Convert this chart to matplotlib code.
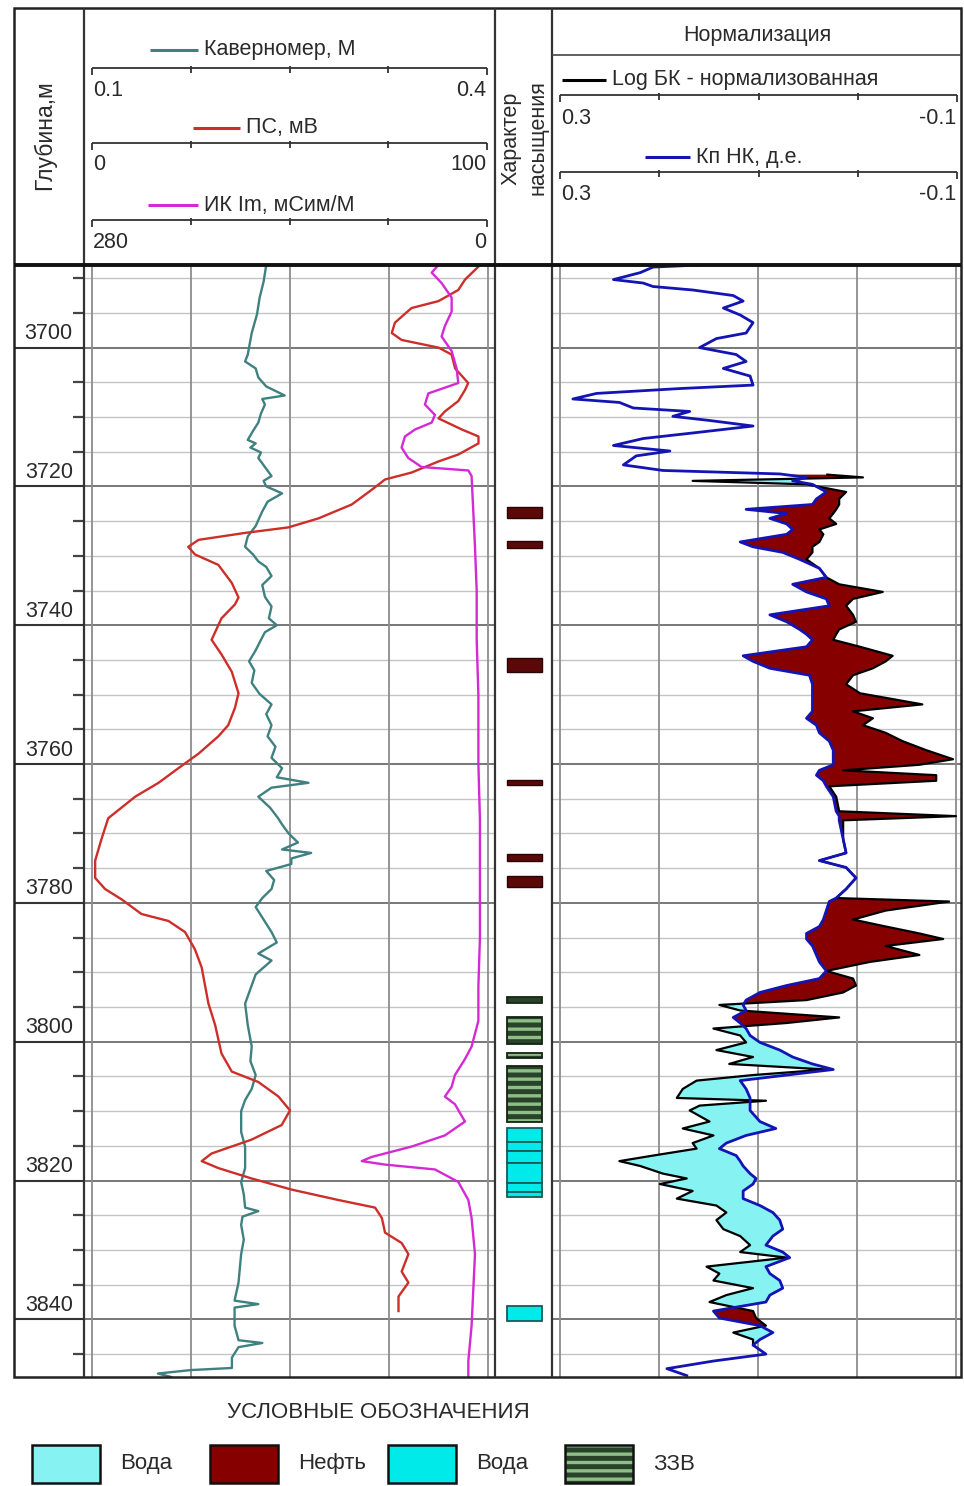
import numpy as np
import matplotlib
matplotlib.use("Agg")
import matplotlib.pyplot as plt
from matplotlib.patches import Rectangle

plt.rcParams['font.family'] = ['Liberation Sans', 'DejaVu Sans']
plt.rcParams['hatch.linewidth'] = 2.4

# ---------------------------------------------------------------- data
depth_top, depth_bottom = 3688.1, 3848.3
depth_major = [3700, 3720, 3740, 3760, 3780, 3800, 3820, 3840]
depth_minor = list(range(3690, 3850, 5))

cal_scale = [0.1, 0.4]      # Каверномер, М
sp_scale = [0, 100]         # ПС, мВ
ik_scale = [280, 0]         # ИК Im, мСим/М
bk_scale = [0.3, -0.1]      # Log БК - нормализованная
nk_scale = [0.3, -0.1]      # Кп НК, д.е.

caliper = [(3688.1, 0.232), (3690.5, 0.230), (3692.8, 0.227), (3695.2, 0.225), (3697.9, 0.221),
           (3701.0, 0.218), (3702.0, 0.216), (3703.0, 0.224), (3704.3, 0.226), (3705.6, 0.232),
           (3706.9, 0.246), (3707.4, 0.229), (3708.2, 0.231), (3709.5, 0.228), (3710.8, 0.226),
           (3712.0, 0.222), (3713.3, 0.218), (3713.8, 0.224), (3714.4, 0.220), (3715.1, 0.228),
           (3715.9, 0.226), (3717.2, 0.231), (3718.5, 0.236), (3719.2, 0.230), (3720.0, 0.232),
           (3721.0, 0.244), (3722.2, 0.233), (3723.6, 0.229), (3725.7, 0.224), (3727.2, 0.218),
           (3728.7, 0.216), (3729.8, 0.222), (3730.8, 0.226), (3731.6, 0.232), (3732.9, 0.236),
           (3734.2, 0.229), (3735.9, 0.231), (3737.3, 0.236), (3739.0, 0.234), (3740.0, 0.240),
           (3741.0, 0.231), (3742.1, 0.228), (3743.6, 0.224), (3745.2, 0.219), (3746.5, 0.223),
           (3748.3, 0.221), (3749.9, 0.227), (3751.4, 0.236), (3752.8, 0.232), (3754.4, 0.236),
           (3756.0, 0.233), (3757.5, 0.239), (3759.1, 0.236), (3760.6, 0.244), (3761.9, 0.240),
           (3762.7, 0.264), (3763.4, 0.236), (3764.7, 0.226), (3766.3, 0.235), (3767.8, 0.241),
           (3768.7, 0.244), (3770.0, 0.249), (3771.3, 0.256), (3772.3, 0.244), (3772.8, 0.266),
           (3773.6, 0.251), (3774.4, 0.251), (3775.4, 0.232), (3776.7, 0.238), (3778.0, 0.236),
           (3779.3, 0.229), (3780.6, 0.224), (3782.4, 0.230), (3784.2, 0.236), (3785.7, 0.240),
           (3787.3, 0.226), (3788.3, 0.236), (3790.3, 0.224), (3792.4, 0.220), (3794.5, 0.216),
           (3797.6, 0.218), (3800.7, 0.221), (3802.8, 0.220), (3804.8, 0.224), (3806.8, 0.221),
           (3808.4, 0.216), (3810.0, 0.213), (3813.0, 0.213), (3815.1, 0.216), (3818.2, 0.216),
           (3820.2, 0.213), (3822.0, 0.215), (3823.9, 0.216), (3824.4, 0.226), (3825.2, 0.214),
           (3826.4, 0.213), (3828.5, 0.215), (3830.6, 0.213), (3832.6, 0.212), (3834.7, 0.211),
           (3837.3, 0.208), (3837.8, 0.226), (3838.3, 0.208), (3840.9, 0.208), (3843.0, 0.211),
           (3843.4, 0.229), (3844.0, 0.211), (3845.5, 0.206), (3847.0, 0.206), (3847.3, 0.175),
           (3847.8, 0.150), (3848.3, 0.160)]

sp = [(3688.1, 98.0), (3690.2, 94.2), (3691.7, 92.5), (3693.3, 87.5), (3694.3, 80.7),
      (3696.4, 76.5), (3697.9, 75.7), (3698.9, 78.2), (3700.0, 87.5), (3701.0, 90.8),
      (3703.0, 91.7), (3705.1, 95.0), (3706.1, 94.2), (3707.7, 92.5), (3709.2, 89.1),
      (3710.2, 87.5), (3711.8, 93.4), (3712.8, 97.6), (3713.8, 97.6), (3715.4, 92.5),
      (3716.4, 87.5), (3717.2, 84.1), (3718.0, 80.7), (3719.0, 74.0), (3720.5, 70.6),
      (3722.6, 65.6), (3724.6, 57.2), (3725.9, 49.6), (3726.7, 38.6), (3727.7, 26.9),
      (3728.7, 24.3), (3729.8, 26.0), (3731.3, 31.9), (3733.9, 35.3), (3736.0, 37.0),
      (3737.0, 36.1), (3739.0, 32.7), (3742.1, 30.2), (3744.2, 32.7), (3746.7, 35.3),
      (3749.8, 37.0), (3751.9, 36.1), (3754.4, 34.4), (3756.0, 31.9), (3758.5, 26.9),
      (3760.6, 21.8), (3762.7, 16.8), (3764.7, 10.9), (3767.8, 4.1), (3770.8, 2.4),
      (3773.9, 0.8), (3776.4, 0.8), (3778.0, 3.3), (3779.5, 7.5), (3781.6, 12.5),
      (3782.6, 19.3), (3784.2, 23.5), (3786.7, 26.0), (3789.3, 27.7), (3794.5, 29.4),
      (3797.6, 31.1), (3801.7, 32.7), (3804.3, 35.3), (3805.8, 42.0), (3807.9, 47.1),
      (3809.9, 50.0), (3812.0, 47.9), (3814.1, 40.3), (3816.1, 30.2), (3817.2, 27.7),
      (3818.2, 31.9), (3819.7, 40.3), (3821.3, 50.4), (3822.8, 62.2), (3823.9, 71.5),
      (3825.4, 73.2), (3827.5, 74.0), (3829.0, 78.2), (3830.6, 79.9), (3833.1, 78.2),
      (3834.7, 79.9), (3836.7, 77.4), (3838.8, 77.4)]

ik = [(3688.1, 35.1), (3689.2, 39.8), (3690.7, 32.8), (3692.8, 25.7), (3694.8, 25.7),
      (3696.9, 30.5), (3698.4, 32.8), (3700.5, 25.7), (3703.0, 22.2), (3705.1, 21.0),
      (3706.6, 42.2), (3708.2, 44.6), (3709.7, 37.5), (3710.8, 39.8), (3711.8, 51.6),
      (3712.8, 58.7), (3714.4, 61.1), (3715.9, 56.4), (3717.2, 47.0), (3717.7, 13.9),
      (3718.5, 11.6), (3723.6, 10.4), (3728.7, 9.2), (3735.0, 8.0), (3742.0, 8.0),
      (3750.0, 6.8), (3760.0, 6.8), (3768.0, 5.7), (3775.0, 5.7), (3785.0, 5.7),
      (3792.0, 6.8), (3797.0, 6.8), (3800.7, 11.6), (3802.5, 16.3), (3804.8, 23.4),
      (3806.5, 25.7), (3807.9, 30.5), (3809.0, 23.4), (3811.5, 16.3), (3813.5, 30.5),
      (3815.1, 54.0), (3816.6, 82.3), (3817.2, 89.3), (3817.7, 72.8), (3818.4, 37.5),
      (3820.2, 21.0), (3822.8, 13.9), (3825.4, 11.6), (3830.6, 9.2), (3835.7, 10.4),
      (3840.9, 11.6), (3846.0, 13.9), (3848.3, 13.9)]

nk = [(3688.1, 0.159), (3688.4, 0.206), (3689.2, 0.219), (3690.2, 0.246), (3690.7, 0.216),
      (3691.2, 0.206), (3691.7, 0.166), (3692.5, 0.125), (3693.3, 0.115), (3694.3, 0.135),
      (3695.3, 0.118), (3696.4, 0.105), (3697.9, 0.112), (3698.7, 0.142), (3700.0, 0.159),
      (3701.0, 0.122), (3702.0, 0.112), (3703.0, 0.135), (3704.1, 0.108), (3705.4, 0.105),
      (3705.9, 0.179), (3706.6, 0.263), (3707.4, 0.287), (3707.9, 0.240), (3708.7, 0.226),
      (3709.2, 0.169), (3709.9, 0.186), (3710.5, 0.149), (3711.3, 0.105), (3712.3, 0.166),
      (3713.1, 0.216), (3714.1, 0.246), (3714.9, 0.189), (3715.6, 0.223), (3716.9, 0.236),
      (3717.7, 0.196), (3718.2, 0.078), (3718.7, 0.051), (3719.2, 0.065), (3719.7, 0.045),
      (3720.8, 0.031), (3721.8, 0.041), (3722.6, 0.045), (3723.3, 0.112), (3723.9, 0.071),
      (3724.6, 0.088), (3725.4, 0.071), (3726.2, 0.065), (3726.9, 0.071), (3728.0, 0.118),
      (3728.7, 0.105), (3729.5, 0.075), (3730.5, 0.058), (3731.8, 0.038), (3733.1, 0.031),
      (3734.1, 0.065), (3735.2, 0.051), (3736.2, 0.031), (3737.2, 0.028), (3738.5, 0.088),
      (3739.5, 0.071), (3740.6, 0.058), (3741.3, 0.051), (3742.1, 0.045), (3743.1, 0.051),
      (3744.4, 0.115), (3745.2, 0.105), (3746.2, 0.088), (3747.2, 0.048), (3748.5, 0.045),
      (3749.8, 0.045), (3751.4, 0.045), (3752.4, 0.045), (3753.4, 0.051), (3754.4, 0.041),
      (3755.5, 0.038), (3756.7, 0.028), (3758.0, 0.024), (3759.3, 0.024), (3760.1, 0.024),
      (3760.9, 0.038), (3761.6, 0.041), (3762.4, 0.034), (3763.2, 0.031), (3764.7, 0.024),
      (3766.8, 0.021), (3767.5, 0.018), (3768.1, 0.018), (3770.8, 0.014), (3772.8, 0.011),
      (3773.9, 0.038), (3774.9, 0.011), (3776.4, 0.001), (3778.0, 0.011), (3779.3, 0.021),
      (3779.8, 0.028), (3781.1, 0.031), (3782.4, 0.034), (3783.4, 0.038), (3784.4, 0.051),
      (3785.2, 0.051), (3786.2, 0.045), (3787.5, 0.041), (3788.5, 0.038), (3789.8, 0.031),
      (3790.9, 0.038), (3791.9, 0.071), (3792.9, 0.098), (3794.0, 0.112), (3794.7, 0.115),
      (3795.5, 0.112), (3796.5, 0.125), (3797.3, 0.118), (3798.1, 0.112), (3799.1, 0.108),
      (3800.1, 0.098), (3801.2, 0.078), (3802.2, 0.065), (3803.2, 0.045), (3804.0, 0.024),
      (3804.8, 0.071), (3805.6, 0.118), (3806.8, 0.112), (3808.1, 0.108), (3809.9, 0.108),
      (3811.5, 0.098), (3812.5, 0.082), (3813.5, 0.112), (3814.6, 0.132), (3815.4, 0.139),
      (3816.4, 0.122), (3817.2, 0.118), (3817.9, 0.115), (3819.0, 0.108), (3819.7, 0.102),
      (3820.5, 0.105), (3821.5, 0.115), (3822.6, 0.115), (3823.6, 0.098), (3824.6, 0.085),
      (3825.7, 0.078), (3827.0, 0.075), (3828.0, 0.085), (3829.3, 0.092), (3830.3, 0.075),
      (3831.1, 0.068), (3832.4, 0.092), (3833.4, 0.088), (3834.4, 0.078), (3835.5, 0.075),
      (3836.5, 0.088), (3837.5, 0.092), (3838.8, 0.145), (3839.8, 0.139), (3840.9, 0.098),
      (3841.9, 0.085), (3842.9, 0.098), (3843.7, 0.105), (3845.0, 0.092), (3846.0, 0.145),
      (3847.1, 0.192), (3848.1, 0.172)]

bk = [(3718.3, 0.030), (3718.7, -0.006), (3719.2, 0.166), (3719.7, 0.051), (3720.8, 0.011),
      (3721.8, 0.018), (3722.6, 0.018), (3723.3, 0.021), (3723.9, 0.024), (3724.6, 0.028),
      (3725.4, 0.021), (3726.2, 0.038), (3726.9, 0.034), (3728.0, 0.038), (3728.7, 0.045),
      (3729.5, 0.045), (3730.5, 0.051), (3731.8, 0.038), (3733.1, 0.031), (3734.1, 0.018),
      (3735.2, -0.026), (3736.2, 0.004), (3737.2, 0.011), (3738.5, 0.004), (3739.5, 0.001),
      (3740.6, 0.018), (3741.3, 0.021), (3742.1, 0.024), (3743.1, -0.003), (3744.4, -0.036),
      (3745.2, -0.029), (3746.2, -0.016), (3747.2, 0.004), (3748.5, 0.011), (3749.8, -0.003),
      (3751.4, -0.066), (3752.4, 0.004), (3753.4, -0.016), (3754.4, -0.006), (3755.5, -0.029),
      (3756.7, -0.046), (3758.0, -0.070), (3759.3, -0.097), (3760.1, -0.063), (3760.9, 0.014),
      (3761.6, -0.080), (3762.4, -0.080), (3763.2, 0.028), (3764.7, 0.021), (3766.8, 0.018),
      (3767.5, -0.100), (3768.1, 0.014), (3770.8, 0.014), (3772.8, 0.011), (3773.9, 0.038),
      (3774.9, 0.011), (3776.4, 0.001), (3778.0, 0.011), (3779.3, 0.021), (3779.8, -0.093),
      (3781.1, -0.029), (3782.4, 0.004), (3783.4, -0.029), (3784.4, -0.063), (3785.2, -0.087),
      (3786.2, -0.029), (3787.5, -0.063), (3788.5, -0.013), (3789.8, 0.031), (3790.9, 0.004),
      (3791.9, 0.001), (3792.9, 0.014), (3794.0, 0.051), (3794.7, 0.139), (3795.5, 0.118),
      (3796.5, 0.018), (3797.3, 0.071), (3798.1, 0.145), (3799.1, 0.118), (3800.1, 0.112),
      (3801.2, 0.142), (3802.2, 0.105), (3803.2, 0.129), (3804.0, 0.031), (3804.8, 0.105),
      (3805.6, 0.162), (3806.8, 0.176), (3808.1, 0.182), (3808.5, 0.092), (3809.2, 0.159),
      (3809.9, 0.169), (3811.5, 0.149), (3812.5, 0.176), (3813.5, 0.145), (3814.6, 0.166),
      (3815.4, 0.162), (3816.4, 0.206), (3817.2, 0.240), (3817.9, 0.219), (3819.0, 0.196),
      (3819.7, 0.172), (3820.5, 0.199), (3821.5, 0.166), (3822.6, 0.182), (3823.6, 0.142),
      (3824.6, 0.132), (3825.7, 0.142), (3827.0, 0.135), (3828.0, 0.118), (3829.3, 0.108),
      (3830.3, 0.118), (3831.1, 0.071), (3832.4, 0.152), (3833.4, 0.139), (3834.4, 0.145),
      (3835.5, 0.105), (3836.5, 0.132), (3837.5, 0.149), (3838.8, 0.105), (3839.8, 0.102),
      (3840.9, 0.092), (3841.9, 0.125), (3842.9, 0.105), (3843.7, 0.105)]

oil_intervals = [(3722.9, 3724.6), (3727.8, 3728.9), (3744.7, 3746.8), (3762.3, 3763.0),
                 (3772.9, 3774.0), (3776.1, 3777.7)]
zzv_intervals = [(3793.5, 3794.4), (3796.4, 3800.3), (3801.6, 3802.4), (3803.5, 3811.5)]
water_intervals = [(3812.4, 3814.4), (3814.4, 3815.8), (3815.8, 3817.4), (3817.4, 3820.4),
                   (3820.4, 3821.6), (3821.6, 3822.3), (3838.1, 3840.3)]

legend_labels = ['Вода', 'Нефть', 'Вода', 'ЗЗВ']

# ---------------------------------------------------------------- style
C_CAL = '#3f8080'
C_SP = '#cc2f2a'
C_IK = '#d42ad4'
C_NK = '#1414b4'
C_BK = '#000000'
C_OIL = '#860000'
C_WATER_L = '#86f2f2'
C_WATER = '#00eaea'
C_SAT_OIL = '#5a0808'
C_ZZV = '#28432a'
C_ZZV_STRIPE = '#8fbf86'
C_TEXT = '#2a2a2a'
C_FRAME = '#222222'
C_GRID_V = '#8c8c8c'
C_GRID_MIN = '#c4c4c4'
C_GRID_MAJ = '#6c6c6c'

W, H, DPI = 964, 1486, 100
fig = plt.figure(figsize=(W / DPI, H / DPI), dpi=DPI)
fig.patch.set_facecolor('white')

Y_TOP, Y_BOT = 265, 1377


def px_axes(x0, y0, x1, y1):
    ax = fig.add_axes([x0 / W, 1 - y1 / H, (x1 - x0) / W, (y1 - y0) / H])
    ax.patch.set_alpha(0)
    ax.axis('off')
    return ax


def lims(lo, hi, g0, g1, a0, a1):
    s = (hi - lo) / (g1 - g0)
    return lo - (g0 - a0) * s, hi + (a1 - g1) * s


def unzip(pairs):
    d, v = zip(*pairs)
    return np.asarray(d), np.asarray(v)


# ---------------------------------------------------------------- depth column
ax_d = px_axes(14, Y_TOP, 84, Y_BOT)
ax_d.set_xlim(0, 1)
ax_d.set_ylim(depth_bottom, depth_top)
for d in depth_minor:
    if d in depth_major:
        continue
    ax_d.plot([0.84, 1.0], [d, d], color='#444444', lw=1.6, solid_capstyle='butt')
for d in depth_major:
    ax_d.axhline(d, color='#333333', lw=1.5)
    ax_d.text(0.84, d - 0.5, str(d), ha='right', va='bottom', fontsize=15.5, color=C_TEXT)

# ---------------------------------------------------------------- track 1
T1 = (84, 495, 92, 488)
ax_cal = px_axes(T1[0], Y_TOP, T1[1], Y_BOT)
ax_cal.set_ylim(depth_bottom, depth_top)
ax_cal.set_xlim(*lims(cal_scale[0], cal_scale[1], T1[2], T1[3], T1[0], T1[1]))
for d in depth_minor:
    maj = d in depth_major
    ax_cal.axhline(d, color=C_GRID_MAJ if maj else C_GRID_MIN, lw=1.3 if maj else 1.0, zorder=1)
for k in range(5):
    ax_cal.axvline(cal_scale[0] + k * (cal_scale[1] - cal_scale[0]) / 4, color=C_GRID_V, lw=1.3, zorder=1)

ax_sp = ax_cal.twiny()
ax_sp.axis('off')
ax_sp.set_xlim(*lims(sp_scale[0], sp_scale[1], T1[2], T1[3], T1[0], T1[1]))
ax_ik = ax_cal.twiny()
ax_ik.axis('off')
ax_ik.set_xlim(*lims(ik_scale[0], ik_scale[1], T1[2], T1[3], T1[0], T1[1]))
ax_cal.set_ylim(depth_bottom, depth_top)

d, v = unzip(ik)
ax_ik.plot(v, d, color=C_IK, lw=1.7, zorder=3)
d, v = unzip(sp)
ax_sp.plot(v, d, color=C_SP, lw=1.7, zorder=4)
d, v = unzip(caliper)
ax_cal.plot(v, d, color=C_CAL, lw=1.7, zorder=5)

# ---------------------------------------------------------------- saturation column
ax_s = px_axes(495, Y_TOP, 552, Y_BOT)
ax_s.set_xlim(0, 1)
ax_s.set_ylim(depth_bottom, depth_top)
BX0, BW = 0.21, 0.62
for t, b in oil_intervals:
    ax_s.add_patch(Rectangle((BX0, t), BW, b - t, facecolor=C_SAT_OIL, edgecolor='#2a0404', lw=1.0))
for t, b in zzv_intervals:
    ax_s.add_patch(Rectangle((BX0, t), BW, b - t, facecolor=C_ZZV, edgecolor=C_ZZV_STRIPE,
                             hatch='--', lw=0))
    ax_s.add_patch(Rectangle((BX0, t), BW, b - t, fill=False, edgecolor='#142212', lw=1.3))
for t, b in water_intervals:
    ax_s.add_patch(Rectangle((BX0, t), BW, b - t, facecolor=C_WATER, edgecolor='#165a5a', lw=1.3))

# ---------------------------------------------------------------- track 3
T3 = (552, 961, 560, 956)
ax_n = px_axes(T3[0], Y_TOP, T3[1], Y_BOT)
ax_n.set_ylim(depth_bottom, depth_top)
ax_n.set_xlim(*lims(bk_scale[0], bk_scale[1], T3[2], T3[3], T3[0], T3[1]))
for dd in depth_minor:
    maj = dd in depth_major
    ax_n.axhline(dd, color=C_GRID_MAJ if maj else C_GRID_MIN, lw=1.3 if maj else 1.0, zorder=1)
for k in range(5):
    ax_n.axvline(bk_scale[0] + k * (bk_scale[1] - bk_scale[0]) / 4, color=C_GRID_V, lw=1.3, zorder=1)

bd, bv = unzip(bk)
nd, nv = unzip(nk)
dg = np.linspace(bd.min(), bd.max(), 8000)
bg = np.interp(dg, bd, bv)
ng = np.interp(dg, nd, nv)
ax_n.fill_betweenx(dg, bg, ng, where=bg < ng, interpolate=True, color=C_OIL, lw=0, zorder=2)
ax_n.fill_betweenx(dg, bg, ng, where=bg > ng, interpolate=True, color=C_WATER_L, lw=0, zorder=2)
ax_n.plot(bv, bd, color=C_BK, lw=1.6, zorder=3)
ax_n.plot(nv, nd, color=C_NK, lw=2.0, zorder=4)

# ---------------------------------------------------------------- overlay: frame, header, legend
ov = px_axes(0, 0, W, H)
ov.set_xlim(0, W)
ov.set_ylim(H, 0)


def hline(x0, x1, y, **kw):
    ov.plot([x0, x1], [y, y], solid_capstyle='butt', **kw)


def vline(x, y0, y1, **kw):
    ov.plot([x, x], [y0, y1], solid_capstyle='butt', **kw)


ov.add_patch(Rectangle((14, 8), 947, Y_BOT - 8, fill=False, edgecolor=C_FRAME, lw=1.8))
for x in (84, 495, 552):
    vline(x, 8, Y_BOT, color='#333333', lw=1.6)
hline(14, 961, Y_TOP, color='#111111', lw=2.8)
hline(552, 961, 55, color='#444444', lw=1.2)

FS = 15.5


def scale_bar(x0, x1, y, lo, hi, ly):
    hline(x0, x1, y, color='#333333', lw=1.3)
    vline(x0, y, y + 7, color='#333333', lw=1.3)
    vline(x1, y, y + 7, color='#333333', lw=1.3)
    for k in (1, 2, 3):
        xx = x0 + k * (x1 - x0) / 4
        vline(xx, y - 2, y + 5, color='#333333', lw=1.3)
    ov.text(x0 + 1, ly, f'{lo:g}', ha='left', va='center', fontsize=FS, color=C_TEXT)
    ov.text(x1 - 1, ly, f'{hi:g}', ha='right', va='center', fontsize=FS, color=C_TEXT)


def legend_line(x0, x1, y, color, label):
    hline(x0, x1, y, color=color, lw=2.2)
    ov.text(x1 + 6, y, label, ha='left', va='center', fontsize=FS, color=C_TEXT)


ov.text(45, 135, 'Глубина,м', rotation=90, ha='center', va='center', fontsize=16.5, color=C_TEXT)

legend_line(150, 198, 50, C_CAL, 'Каверномер, М')
scale_bar(92, 487, 68, cal_scale[0], cal_scale[1], 90)
legend_line(193, 240, 128, C_SP, 'ПС, мВ')
scale_bar(92, 487, 143, sp_scale[0], sp_scale[1], 165)
legend_line(148, 198, 205, C_IK, 'ИК Im, мСим/М')
scale_bar(92, 487, 220, ik_scale[0], ik_scale[1], 242)

ov.text(511, 138, 'Характер', rotation=90, ha='center', va='center', fontsize=15.5, color=C_TEXT)
ov.text(538, 138, 'насыщения', rotation=90, ha='center', va='center', fontsize=15.5, color=C_TEXT)

ov.text(757, 36, 'Нормализация', ha='center', va='center', fontsize=FS, color=C_TEXT)
legend_line(562, 606, 80, C_BK, 'Log БК - нормализованная')
scale_bar(560, 957, 95, bk_scale[0], bk_scale[1], 118)
legend_line(645, 690, 157, C_NK, 'Кп НК, д.е.')
scale_bar(560, 957, 172, nk_scale[0], nk_scale[1], 195)

# legend
ov.text(378, 1412, 'УСЛОВНЫЕ ОБОЗНАЧЕНИЯ', ha='center', va='center', fontsize=16, color=C_TEXT)
sw_x = [32, 210, 388, 565]
sw_face = [C_WATER_L, C_OIL, C_WATER, C_ZZV]
for lab, x0, fc in zip(legend_labels, sw_x, sw_face):
    if lab == 'ЗЗВ':
        ov.add_patch(Rectangle((x0, 1445), 68, 38, facecolor=fc, edgecolor=C_ZZV_STRIPE, hatch='--', lw=0))
        ov.add_patch(Rectangle((x0, 1445), 68, 38, fill=False, edgecolor='#111111', lw=1.8))
    else:
        ov.add_patch(Rectangle((x0, 1445), 68, 38, facecolor=fc, edgecolor='#111111', lw=1.8))
    ov.text(x0 + 88, 1464, lab, ha='left', va='center', fontsize=16, color=C_TEXT)

fig.savefig('out.png', dpi=DPI, facecolor='white')
